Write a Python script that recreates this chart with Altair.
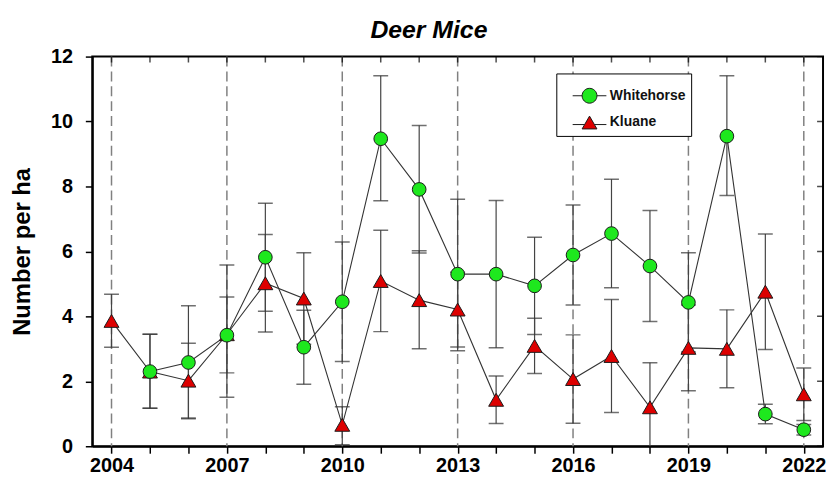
import altair as alt
import pandas as pd

# ---- data ----
years = list(range(2004, 2023))
white_mean = [None, 2.30, 2.58, 3.42, 5.82, 3.05, 4.45, 9.47, 7.91, 5.30, 5.30, 4.94, 5.89, 6.55, 5.55, 4.43, 9.55, 0.99, 0.51]
white_lo = [None, 1.17, 0.85, 1.51, 4.16, 1.91, 2.61, 7.56, 5.95, 2.94, 3.03, 3.44, 4.35, 4.88, 3.84, 2.90, 7.72, 0.69, 0.35]
white_hi = [None, 3.45, 4.33, 5.58, 7.48, 4.19, 6.29, 11.41, 9.88, 7.61, 7.57, 6.44, 7.43, 8.22, 7.26, 5.96, 11.41, 1.29, 0.67]
kluane_mean = [3.86, 2.30, 2.02, 3.45, 5.02, 4.55, 0.66, 5.09, 4.50, 4.21, 1.43, 3.09, 2.07, 2.78, 1.20, 3.03, 3.00, 4.76, 1.60]
kluane_lo = [3.05, 1.17, 0.87, 2.26, 3.52, 3.14, 0.05, 3.53, 3.00, 3.06, 0.70, 2.24, 0.71, 1.04, -0.20, 1.71, 1.80, 2.98, 0.79]
kluane_hi = [4.68, 3.45, 3.17, 4.60, 6.52, 5.96, 1.22, 6.65, 6.02, 5.36, 2.16, 3.94, 3.43, 4.52, 2.57, 4.35, 4.20, 6.54, 2.41]
grid_years = [2004, 2007, 2010, 2013, 2016, 2019, 2022]
y_ticks = [0, 2, 4, 6, 8, 10, 12]
x_domain = [2003.5, 2022.5]
y_domain = [0, 12]
sites = ["Whitehorse", "Kluane"]

GREEN = "#1ee81e"
RED = "#dd0000"
EDGE = "#1a1a1a"
FONT = "Liberation Sans"

rows = []
for site, m, lo, hi in [("Whitehorse", white_mean, white_lo, white_hi),
                        ("Kluane", kluane_mean, kluane_lo, kluane_hi)]:
    for yr, a, b, c in zip(years, m, lo, hi):
        if a is None:
            continue
        rows.append({"year": yr, "site": site, "mean": a, "lo": b, "hi": c})
df = pd.DataFrame(rows)

xs = alt.Scale(domain=x_domain, nice=False, zero=False)
ys = alt.Scale(domain=y_domain, nice=False, zero=False)

x_axis = alt.Axis(
    orient="bottom", values=years, format="d",
    labelExpr="datum.value % 3 == 0 ? datum.label : ''",
    labelOverlap=False, labelFlush=False,
    tickSize=7, tickWidth=1.5, tickColor="black",
    domainColor="black", domainWidth=2,
    labelFont=FONT, labelFontSize=20, labelFontWeight="bold", labelColor="black",
    labelPadding=2, title=None, grid=False)
y_axis = alt.Axis(
    orient="left", values=y_ticks, tickSize=7, tickWidth=1.5, tickColor="black",
    domainColor="black", domainWidth=2,
    labelFont=FONT, labelFontSize=20, labelFontWeight="bold", labelColor="black",
    labelPadding=13, title="Number per ha", titleFont=FONT, titleFontSize=24,
    titleFontWeight="bold", titleColor="black", titlePadding=16, grid=False)


def X(field):
    return alt.X(field, scale=xs, axis=x_axis)


def Y(field):
    return alt.Y(field, scale=ys, axis=y_axis)


base = alt.Chart(df)

# dashed vertical reference lines
grid = alt.Chart(pd.DataFrame({"year": grid_years})).mark_rule(
    color="#808080", strokeWidth=1.5, strokeDash=[10, 5]
).encode(x=X("year:Q"))

# inward ticks on the top edge (half of each tick is clipped away)
top_ticks = alt.Chart(pd.DataFrame({"year": years, "edge": [y_domain[1]] * len(years)})).mark_tick(
    orient="vertical", size=12, thickness=1.5, color="black", clip=True
).encode(x=X("year:Q"), y=Y("edge:Q"))

# inward ticks on the right edge
right_ticks = alt.Chart(pd.DataFrame({"v": y_ticks, "edge": [x_domain[1]] * len(y_ticks)})).mark_tick(
    orient="horizontal", size=12, thickness=1.5, color="black", clip=True
).encode(x=X("edge:Q"), y=Y("v:Q"))

err = base.mark_rule(color="#444444", strokeWidth=1.2, clip=True).encode(
    x=X("year:Q"), y=Y("lo:Q"), y2="hi:Q",
)
cap_lo = base.mark_tick(orient="horizontal", size=15, thickness=1.5, color="#333333", clip=True).encode(
    x=X("year:Q"), y=Y("lo:Q"),
)
cap_hi = base.mark_tick(orient="horizontal", size=15, thickness=1.5, color="#333333", clip=True).encode(
    x=X("year:Q"), y=Y("hi:Q"),
)

lines = base.mark_line(color="#333333", strokeWidth=1.1).encode(
    x=X("year:Q"), y=Y("mean:Q"), detail="site:N", order="year:Q",
)

# legend (symbols drawn through the legend, layer itself invisible)
circ_path = "M-1,0H-0.44 M0.44,0H1 M-0.44,0 A0.44,0.44 0 1,1 0.44,0 A0.44,0.44 0 1,1 -0.44,0 Z"
tri_path = "M-1,0.12H-0.3 M0.3,0.12H1 M0,-0.38 L0.44,0.38 L-0.44,0.38 Z"
leg_cfg = dict(
    orient="none", legendX=468, legendY=17, title=None,
    strokeColor="black", fillColor="white", padding=5,
    symbolSize=1156, symbolStrokeWidth=1, symbolOpacity=1, symbolOffset=11,
    labelFont=FONT, labelFontSize=14, labelFontWeight="bold", labelColor="#111111",
    labelOffset=3, rowPadding=-7,
)
legend_layer = base.mark_point(filled=True, opacity=0).encode(
    x=X("year:Q"), y=Y("mean:Q"),
    fill=alt.Fill("site:N", scale=alt.Scale(domain=sites, range=[GREEN, RED]),
                  legend=alt.Legend(**leg_cfg)),
    stroke=alt.Stroke("site:N", scale=alt.Scale(domain=sites, range=[EDGE, EDGE]),
                      legend=alt.Legend(**leg_cfg)),
    shape=alt.Shape("site:N", scale=alt.Scale(domain=sites, range=[circ_path, tri_path]),
                    legend=alt.Legend(**leg_cfg)),
)

pk = base.transform_filter(alt.datum.site == "Kluane").mark_point(
    shape="triangle-up", filled=True, fill=RED, stroke=EDGE, strokeWidth=1, size=225, opacity=1
).encode(x=X("year:Q"), y=Y("mean:Q"))

pw = base.transform_filter(alt.datum.site == "Whitehorse").mark_point(
    shape="circle", filled=True, fill=GREEN, stroke=EDGE, strokeWidth=1, size=190, opacity=1
).encode(x=X("year:Q"), y=Y("mean:Q"))

chart = alt.layer(grid, top_ticks, right_ticks, err, cap_lo, cap_hi, lines,
                  legend_layer, pk, pw).properties(
    width=737, height=393,
    title=alt.Title("Deer Mice", font=FONT, fontSize=25, fontWeight="bold", fontStyle="italic",
                    color="black", anchor="middle", dx=-29, offset=4),
    padding={"left": 2, "top": 8, "right": 0, "bottom": 0},
).configure(background="white").configure_view(stroke="black", strokeWidth=2)

chart.save("out.html", embed_options={"renderer": "svg", "actions": False})
